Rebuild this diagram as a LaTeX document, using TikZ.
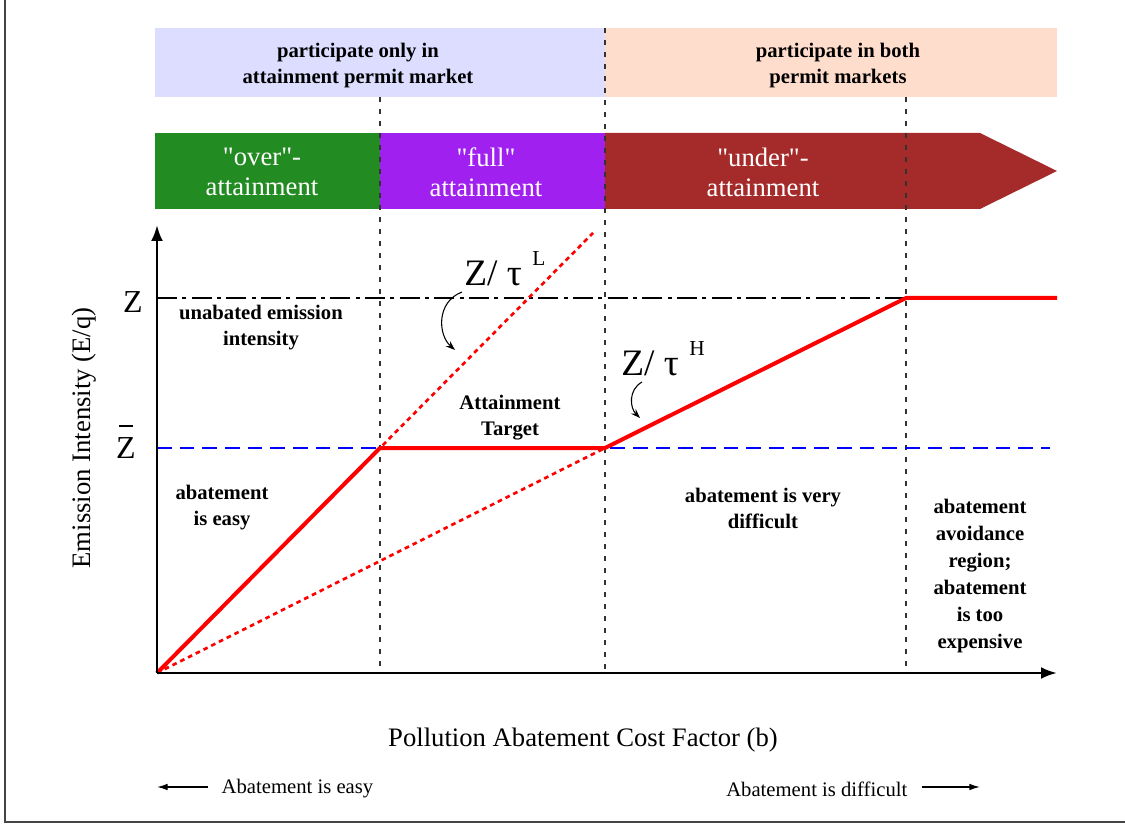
\documentclass[tikz,border=0pt]{standalone}
\usepackage{fontspec}
\setmainfont{Liberation Serif}
\usetikzlibrary{arrows.meta}

\definecolor{lavender}{HTML}{DDDDFF}
\definecolor{peach}{HTML}{FFDDCC}
\definecolor{overgreen}{HTML}{228B22}
\definecolor{fullpurple}{HTML}{A020F0}
\definecolor{underbrown}{HTML}{A52A2A}
\definecolor{framegray}{HTML}{444444}

\newcommand{\ratio}[1]{Z/ τ\hspace{8pt}\raisebox{15pt}{\fontsize{16}{16}\selectfont #1}}

\tikzset{
    boldlabel/.style={align=center, font=\fontsize{15.5}{19.5}\selectfont\bfseries},
    bandlabel/.style={align=center, text=white, font=\fontsize{20}{22.5}\selectfont},
    axislabel/.style={font=\fontsize{20}{24}\selectfont},
    smalllabel/.style={font=\fontsize{15.5}{18}\selectfont},
    levellabel/.style={font=\fontsize{24}{28}\selectfont},
    ratiolabel/.style={font=\fontsize{28}{30}\selectfont, inner sep=0pt, anchor=base west},
    regionline/.style={draw=black!80, line width=1.5pt, dash pattern=on 4pt off 5pt},
    curve/.style={red, line width=3pt},
    ratioline/.style={red, line width=2pt, dash pattern=on 3.5pt off 3pt},
}

\begin{document}
\begin{tikzpicture}[x=0.75pt, y=-0.75pt]
    \useasboundingbox (0,0) rectangle (1125,827);

    % frame
    \draw[framegray, line width=2pt] (5,0) -- (5,822) -- (1125,822);

    % participation bands
    \fill[lavender] (155,28) rectangle (605,97);
    \fill[peach] (605,28) rectangle (1057,97);
    \node[boldlabel] (onlyatt) at (358,66) {participate only in\\attainment permit market};
    \node[boldlabel] (both) at (838,66) {participate in both\\permit markets};

    % attainment bands
    \fill[overgreen] (155,133) rectangle (380,209);
    \fill[fullpurple] (380,133) rectangle (605,209);
    \fill[underbrown] (605,133) -- (980,133) -- (1057,171) -- (980,209) -- (605,209) -- cycle;
    \node[bandlabel] (over) at (262,172) {\textquotedbl over\textquotedbl -\\attainment};
    \node[bandlabel] (full) at (486,172) {\textquotedbl full\textquotedbl\\attainment};
    \node[bandlabel] (under) at (763,172) {\textquotedbl under\textquotedbl -\\attainment};

    % region boundaries
    \draw[regionline] (380,97) -- (380,673);
    \draw[regionline] (605,28) -- (605,673);
    \draw[regionline] (906,97) -- (906,673);

    % key points
    \coordinate (O) at (157,673);
    \coordinate (kneeL) at (380,448);
    \coordinate (kneeH) at (605,448);
    \coordinate (cap) at (906,298);

    % reference levels
    \draw[black, line width=2pt, dash pattern=on 15pt off 4pt on 3pt off 4pt] (157,298) -- (cap);
    \draw[blue, line width=2pt, dash pattern=on 11pt off 6pt] (157,448) -- (1050,448);

    % rays
    \draw[ratioline] (O) -- (593,233);
    \draw[ratioline] (O) -- (kneeH);

    % emission intensity
    \draw[curve, line join=round] (O) -- (kneeL) -- (kneeH) -- (cap) -- (1057,298);

    % axes
    \draw[line width=2pt, -{Latex[length=12pt, width=9pt]}] (O) -- (157,225);
    \draw[line width=2pt, -{Latex[length=12pt, width=9pt]}] (O) -- (1057,673);

    \node[levellabel] (Z) at (133,302) {Z};
    \node[levellabel] (Zbar) at (126,448) {Z};
    \coordinate (barL) at (119,426);
    \coordinate (barR) at (133,426);
    \draw[line width=1.6pt] (barL) -- (barR);
    \node[axislabel, rotate=90] (ylab) at (84,438) {Emission Intensity (E/q)};
    \node[axislabel] (xlab) at (583,740) {Pollution Abatement Cost Factor (b)};

    % ratio labels
    \node[ratiolabel] (tauL) at (464,286) {\ratio{L}};
    \node[ratiolabel] (tauH) at (621,376) {\ratio{H}};
    \coordinate (onL) at (455,350);
    \coordinate (onH) at (640,418);
    \draw[-{Stealth[length=7pt, width=5pt]}, thick] (462,292) .. controls (436,302) and (438,335) .. (onL);
    \draw[-{Stealth[length=7pt, width=5pt]}, thick] (642,382) .. controls (628,390) and (630,408) .. (onH);

    % region texts
    \node[boldlabel] (unabated) at (261,328) {unabated emission\\intensity};
    \node[boldlabel] (target) at (510,418) {Attainment\\Target};
    \node[boldlabel] (easy) at (222,508) {abatement\\is easy};
    \node[boldlabel] (difficult) at (763,508) {abatement is very\\difficult};
    \node[boldlabel, font=\fontsize{15.5}{20.2}\selectfont\bfseries] (avoid) at (980,576) {abatement\\avoidance\\region;\\abatement\\is too\\expensive};

    % direction hints
    \node[smalllabel, anchor=west] (easyhint) at (217,789) {Abatement is easy};
    \node[smalllabel, anchor=east] (hardhint) at (912,789) {Abatement is difficult};
    \coordinate (leftend) at (157,787);
    \coordinate (rightend) at (980,787);
    \draw[-{Latex[length=8pt, width=5pt]}, line width=1pt] (208,787) -- (leftend);
    \draw[-{Latex[length=8pt, width=5pt]}, line width=1pt] (922,787) -- (rightend);
\end{tikzpicture}
\end{document}
